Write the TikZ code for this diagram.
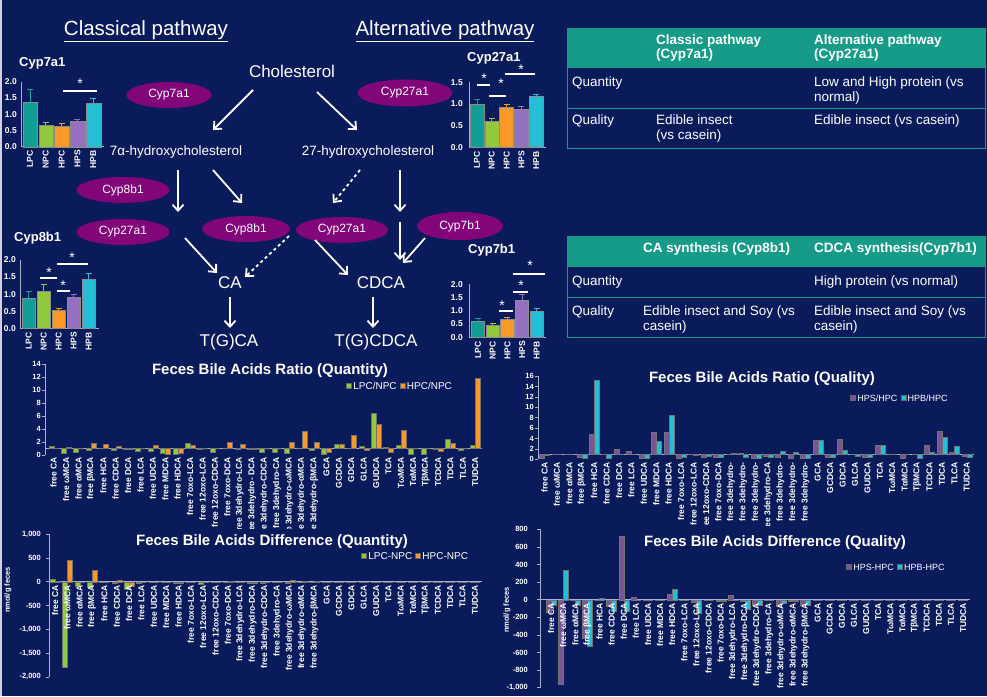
\documentclass[tikz,border=0pt]{standalone}
\usepackage{fontspec}
\setmainfont{Liberation Sans}
\usetikzlibrary{shapes.geometric,arrows.meta,positioning,calc}
\definecolor{NavyBg}{RGB}{10,27,92}
\definecolor{EnzPurple}{RGB}{130,6,122}
\definecolor{HeadTeal}{RGB}{22,155,136}
\definecolor{BarTeal}{RGB}{18,158,148}
\definecolor{BarGreen}{RGB}{146,200,60}
\definecolor{BarOrange}{RGB}{250,152,40}
\definecolor{BarLilac}{RGB}{150,112,192}
\definecolor{BarCyan}{RGB}{38,190,214}
\definecolor{DarkMauve}{RGB}{122,84,148}
\definecolor{AxisGray}{RGB}{170,175,205}

\begin{document}
\begin{tikzpicture}[x=1pt,y=-1pt,
    every node/.style={text=white},
    enz/.style={ellipse,fill=EnzPurple,inner sep=0pt,minimum height=26pt,
                font=\fontsize{12}{12}\selectfont},
    met/.style={font=\fontsize{17}{17}\selectfont,inner sep=0pt},
    hyd/.style={font=\fontsize{13.5}{14}\selectfont,inner sep=0pt},
    arr/.style={-{Straight Barb[length=6pt,width=11pt]},draw=white,line width=1.8pt},
    ptitle/.style={font=\fontsize{20.5}{21}\selectfont,inner sep=0pt},
    ctitle/.style={anchor=west,font=\bfseries\fontsize{13}{13}\selectfont,inner sep=0pt},
    smtick/.style={anchor=east,font=\bfseries\fontsize{8.5}{9}\selectfont,inner sep=0pt},
    smlab/.style={rotate=90,anchor=east,font=\bfseries\fontsize{8.5}{9}\selectfont,inner sep=0pt},
    sbar/.style={draw=black!45,line width=0.3pt},
    errb/.style={line width=0.9pt},
    sigln/.style={draw=white,line width=1.4pt},
    star/.style={font=\fontsize{14}{14}\selectfont,inner sep=0pt},
    axisln/.style={draw=AxisGray,line width=0.6pt},
    bigtitle/.style={font=\bfseries\fontsize{15}{15}\selectfont,inner sep=0pt},
    bigtick/.style={anchor=east,font=\bfseries\fontsize{7.5}{8}\selectfont,inner sep=0pt},
    catlab/.style={rotate=90,anchor=east,font=\bfseries\fontsize{8.5}{9}\selectfont,inner sep=0pt},
    legsq/.style={minimum size=5pt,inner sep=0pt,draw=black!60,line width=0.3pt},
    legtxt/.style={font=\fontsize{10}{10}\selectfont,inner sep=0pt},
    legtxs/.style={font=\fontsize{9}{9}\selectfont,inner sep=0pt},
    barG/.style={fill=BarGreen,draw=black!55,line width=0.3pt},
    barO/.style={fill=BarOrange,draw=black!55,line width=0.3pt},
    barP/.style={fill=DarkMauve,draw=black!55,line width=0.3pt},
    barC/.style={fill=BarCyan,draw=black!55,line width=0.3pt},
    tabline/.style={draw=HeadTeal,line width=1pt},
    thead/.style={anchor=north west,align=left,inner sep=0pt,
                  font=\bfseries\fontsize{13.5}{14}\selectfont},
    tcell/.style={anchor=north west,align=left,inner sep=0pt,
                  font=\fontsize{13.5}{15}\selectfont}]
  \useasboundingbox (0,0) rectangle (987,696);
  \fill[NavyBg] (0,0) rectangle (987,696);
  \draw[white!80!NavyBg,line width=1.6pt] (0.8,0) -- (0.8,696);

  % pathway scheme
  \node[ptitle] (classic) at (146,31) {\underline{Classical pathway}};
  \node[ptitle] (altern) at (445,31) {\underline{Alternative pathway}};
  \node[met] (chol) at (292,71) {Cholesterol};
  \node[hyd] (hy7) at (176,152) {7α-hydroxycholesterol};
  \node[hyd] (hy27) at (368,152) {27-hydroxycholesterol};
  \node[met] (ca) at (230,283) {CA};
  \node[met] (cdca) at (381,283) {CDCA};
  \node[met] (tgca) at (229,342) {T(G)CA};
  \node[met] (tgcdca) at (376,342) {T(G)CDCA};
  \node[enz,minimum width=85pt] (e7a) at (169,95) {Cyp7a1};
  \node[enz,minimum width=95pt,minimum height=27pt] (e27a) at (405,93) {Cyp27a1};
  \node[enz,minimum width=93pt] (e8bL) at (123,190) {Cyp8b1};
  \node[enz,minimum width=93pt] (e27L) at (123,232) {Cyp27a1};
  \node[enz,minimum width=88pt] (e8bM) at (246,229) {Cyp8b1};
  \node[enz,minimum width=92pt] (e27M) at (342,230) {Cyp27a1};
  \node[enz,minimum width=86pt,minimum height=28pt] (e7b) at (460,226) {Cyp7b1};

  \draw[arr] ($(chol)+(-39,19)$) -- ($(hy7)+(37,-22)$);
  \draw[arr] ($(chol)+(25,21)$) -- ($(hy27)+(-11,-22)$);
  \draw[arr] ($(hy7)+(2,18)$) -- ($(hy7)+(2,60)$);
  \draw[arr] ($(hy7)+(37,18)$) -- ($(hy7)+(66,51)$);
  \draw[arr,dashed] ($(hy27)+(-8,18)$) -- ($(hy27)+(-35,51)$);
  \draw[arr] ($(hy27)+(32,18)$) -- ($(hy27)+(32,60)$);
  \draw[arr] ($(ca)+(-45,-45)$) -- ($(ca)+(-13,-10)$);
  \draw[arr,dashed] ($(ca)+(59,-47)$) -- ($(ca)+(15,-6)$);
  \draw[arr] ($(cdca)+(-66,-43)$) -- ($(cdca)+(-33,-8)$);
  \draw[arr] ($(cdca)+(19,-61)$) -- ($(cdca)+(19,-23)$);
  \draw[arr] ($(cdca)+(44,-45)$) -- ($(cdca)+(22,-20)$);
  \draw[arr] ($(ca)+(0,14)$) -- ($(tgca)+(1,-14)$);
  \draw[arr] ($(cdca)+(-8,14)$) -- ($(tgcdca)+(-3,-14)$);

  % Cyp7a1 panel
  \node[ctitle] (c7aT) at (19,63) {Cyp7a1};
  \draw[axisln] (21,81.7) -- (21,146.7) -- (104,146.7);
  \foreach \tk in {0.0,0.5,1.0,1.5,2.0}
    \node[smtick] at (17,{146.7-\tk*32.5}) {\tk};
  \foreach \v/\e/\col/\g [count=\i] in {1.38/1.75/BarTeal/LPC,0.67/0.75/BarGreen/NPC,
      0.62/0.72/BarOrange/HPC,0.78/0.85/BarLilac/HPS,1.33/1.50/BarCyan/HPB}{
    \pgfmathsetmacro\bx{23+(\i-1)*15.8}
    \draw[errb,draw=\col] ({\bx+7},{146.7-\v*32.5}) -- ({\bx+7},{146.7-\e*32.5}) ++(-3,0) -- ++(6,0);
    \draw[sbar,fill=\col] (\bx,146.7) rectangle ({\bx+14.5},{146.7-\v*32.5});
    \node[smlab] (c7a-\i) at ({\bx+7},150) {\g};
  }
  \draw[sigln] (63,91) -- (97,91);
  \node[star] (c7aS) at (80,84) {*};

  % Cyp8b1 panel
  \node[ctitle] (c8bT) at (14,238) {Cyp8b1};
  \draw[axisln] (20,260) -- (20,328.3) -- (99,328.3);
  \foreach \tk in {0.0,0.5,1.0,1.5,2.0}
    \node[smtick] at (16,{328.3-\tk*34.2}) {\tk};
  \foreach \v/\e/\col/\g [count=\i] in {0.89/1.08/BarTeal/LPC,1.08/1.28/BarGreen/NPC,
      0.52/0.58/BarOrange/HPC,0.92/1.00/BarLilac/HPS,1.45/1.60/BarCyan/HPB}{
    \pgfmathsetmacro\bx{22+(\i-1)*15}
    \draw[errb,draw=\col] ({\bx+6.8},{328.3-\v*34.2}) -- ({\bx+6.8},{328.3-\e*34.2}) ++(-3,0) -- ++(6,0);
    \draw[sbar,fill=\col] (\bx,328.3) rectangle ({\bx+13.5},{328.3-\v*34.2});
    \node[smlab] (c8b-\i) at ({\bx+6.8},332) {\g};
  }
  \draw[sigln] (40,278) -- (57,278);
  \node[star] (c8bS1) at (49,273) {*};
  \draw[sigln] (57,291) -- (70,291);
  \node[star] (c8bS2) at (63,286) {*};
  \draw[sigln] (57,264) -- (88,264);
  \node[star] (c8bS3) at (72,258) {*};

  % Cyp27a1 panel
  \node[ctitle] (c27T) at (467,58) {Cyp27a1};
  \draw[axisln] (469,82) -- (469,147.3) -- (546,147.3);
  \foreach \tk in {0.0,0.5,1.0,1.5}
    \node[smtick] at (463,{147.3-\tk*43.3}) {\tk};
  \foreach \v/\e/\col/\g [count=\i] in {1.00/1.10/BarTeal/LPC,0.60/0.66/BarGreen/NPC,
      0.92/0.98/BarOrange/HPC,0.88/0.94/BarLilac/HPS,1.18/1.22/BarCyan/HPB}{
    \pgfmathsetmacro\bx{470+(\i-1)*14.8}
    \draw[errb,draw=\col] ({\bx+7},{147.3-\v*43.3}) -- ({\bx+7},{147.3-\e*43.3}) ++(-3,0) -- ++(6,0);
    \draw[sbar,fill=\col] (\bx,147.3) rectangle ({\bx+14},{147.3-\v*43.3});
    \node[smlab] (c27-\i) at ({\bx+7},151) {\g};
  }
  \draw[sigln] (477,85) -- (490,85);
  \node[star] (c27S1) at (484,79) {*};
  \draw[sigln] (489,96) -- (506,96);
  \node[star] (c27S2) at (501,84) {*};
  \draw[sigln] (505,74) -- (535,74);
  \node[star] (c27S3) at (521,70) {*};

  % Cyp7b1 panel
  \node[ctitle] (c7bT) at (468,250) {Cyp7b1};
  \draw[axisln] (469,284) -- (469,337.3) -- (546,337.3);
  \foreach \tk in {0.0,0.5,1.0,1.5,2.0}
    \node[smtick] at (463,{337.3-\tk*26.5}) {\tk};
  \foreach \v/\e/\col/\g [count=\i] in {0.62/0.72/BarTeal/LPC,0.45/0.52/BarGreen/NPC,
      0.70/0.75/BarOrange/HPC,1.42/1.60/BarLilac/HPS,1.00/1.08/BarCyan/HPB}{
    \pgfmathsetmacro\bx{471+(\i-1)*14.7}
    \draw[errb,draw=\col] ({\bx+7},{337.3-\v*26.5}) -- ({\bx+7},{337.3-\e*26.5}) ++(-3,0) -- ++(6,0);
    \draw[sbar,fill=\col] (\bx,337.3) rectangle ({\bx+13.5},{337.3-\v*26.5});
    \node[smlab] (c7b-\i) at ({\bx+7},341) {\g};
  }
  \draw[sigln] (499,311) -- (513,311);
  \node[star] (c7bS1) at (502,306) {*};
  \draw[sigln] (513,292) -- (528,292);
  \node[star] (c7bS2) at (521,286) {*};
  \draw[sigln] (513,274) -- (545,274);
  \node[star] (c7bS3) at (530,266) {*};

  % tables
  \fill[HeadTeal] (567,28) rectangle (985,68);
  \draw[tabline] (567,28) rectangle (985,148);
  \draw[tabline] (567,108) -- (985,108);
  \node[thead] (t1h2) at (656,35) {Classic pathway\\(Cyp7a1)};
  \node[thead] (t1h3) at (814,35) {Alternative pathway\\(Cyp27a1)};
  \node[tcell] (t1r1) at (572,77) {Quantity};
  \node[tcell] (t1r1c) at (814,77) {Low and High protein (vs\\normal)};
  \node[tcell] (t1r2) at (572,115) {Quality};
  \node[tcell] (t1r2b) at (656,115) {Edible insect\\(vs casein)};
  \node[tcell] (t1r2c) at (814,115) {Edible insect (vs casein)};

  \fill[HeadTeal] (567,236) rectangle (985,267);
  \draw[tabline] (567,236) rectangle (985,337);
  \draw[tabline] (567,297) -- (985,297);
  \node[thead] (t2h2) at (643,243) {CA synthesis (Cyp8b1)};
  \node[thead] (t2h3) at (814,243) {CDCA synthesis(Cyp7b1)};
  \node[tcell] (t2r1) at (572,275.5) {Quantity};
  \node[tcell] (t2r1c) at (814,275.5) {High protein (vs normal)};
  \node[tcell] (t2r2) at (572,305.5) {Quality};
  \node[tcell] (t2r2b) at (643,305.5) {Edible insect and Soy (vs\\casein)};
  \node[tcell] (t2r2c) at (814,305.5) {Edible insect and Soy (vs\\casein)};

  % ratio (quantity)
  \begin{scope}
    \clip (0,355) rectangle (500,528);
    \node[bigtitle] (rqnT) at (270,371) {Feces Bile Acids Ratio (Quantity)};
    \draw[axisln] (45,364) -- (45,455);
    \draw[axisln] (45,448.5) -- (482,448.5);
    \foreach \tk in {0,2,...,14}{
      \draw[axisln] (42,{455-\tk*6.5}) -- (45,{455-\tk*6.5});
      \node[bigtick] at (41,{455-\tk*6.5}) {\tk};
    }
    \foreach \nm/\a/\b [count=\i] in {free CA/1.4/1.1,free ωMCA/0.25/1.15,free αMCA/0.4/1.0,
        free βMCA/0.8/1.8,free HCA/1.0/1.6,free CDCA/0.8/1.4,free DCA/0.9/0.9,free LCA/0.6/1.0,
        free UDCA/0.6/1.5,free MDCA/0.3/0.2,free HDCA/0.2/0.3,free 7oxo-LCA/1.9/1.5,
        free 12oxo-LCA/0.9/1.0,free 12oxo-CDCA/0.5/1.0,free 7oxo-DCA/1.0/2.0,
        free 3dehydro-LCA/0.95/1.6,free 3dehydro- DCA/0.9/0.95,free 3dehydro-CDCA/0.4/1.0,
        free 3dehydro-CA/0.5/1.0,free 3dehydro-ωMCA/0.3/2.0,free 3dehydro-αMCA/1.0/3.6,
        free 3dehydro-βMCA/0.8/2.0,GCA/0.2/0.4,GCDCA/1.7/1.7,GDCA/1.0/3.1,GLCA/1.4/0.8,
        GUDCA/6.5/4.8,TCA/1.2/0.4,TωMCA/1.5/3.8,TαMCA/0.2/1.0,TβMCA/0.2/1.0,TCDCA/0.9/0.6,
        TDCA/2.4/1.8,TLCA/0.7/1.0,TUDCA/1.5/11.8}{
      \pgfmathsetmacro\cx{53.7+(\i-1)*12.4}
      \draw[barG] ({\cx-5},448.5) rectangle (\cx,{455-\a*6.5});
      \draw[barO] (\cx,448.5) rectangle ({\cx+5},{455-\b*6.5});
      \node[catlab] (rqn-\i) at (\cx,457) {\nm};
    }
  \end{scope}
  \node[legsq,fill=BarGreen] (rqnL1) at (349,386) {};
  \node[legtxt,right=1.5pt of rqnL1] (rqnL1t) {LPC/NPC};
  \node[legsq,fill=BarOrange,right=3pt of rqnL1t] (rqnL2) {};
  \node[legtxt,right=1.5pt of rqnL2] (rqnL2t) {HPC/NPC};

  % ratio (quality)
  \begin{scope}
    \clip (500,355) rectangle (987,525);
    \node[bigtitle] (rqlT) at (762,379) {Feces Bile Acids Ratio (Quality)};
    \draw[axisln] (538,376) -- (538,459.3);
    \draw[axisln] (538,454.1) -- (974,454.1);
    \foreach \tk in {0,2,...,16}{
      \draw[axisln] (535,{459.3-\tk*5.2}) -- (538,{459.3-\tk*5.2});
      \node[bigtick] at (534,{459.3-\tk*5.2}) {\tk};
    }
    \foreach \nm/\a/\b [count=\i] in {free CA/0.2/0.8,free ωMCA/0.9/1.0,free αMCA/1.0/1.0,
        free βMCA/0.4/0.2,free HCA/4.8/15.2,free CDCA/0.9/0.3,free DCA/1.9/1.0,free LCA/1.5/1.0,
        free UDCA/0.3/0.3,free MDCA/5.2/3.4,free HDCA/5.2/8.5,free 7oxo-LCA/0.3/0.4,
        free 12oxo-LCA/0.9/0.8,free 12oxo-CDCA/0.5/0.6,free 7oxo-DCA/0.5/0.4,
        free 3dehydro-/0.9/1.2,free 3dehydro-/1.2/0.5,free 3dehydro-/0.3/0.3,
        free 3dehydro-CA/0.6/0.5,free 3dehydro-/0.5/1.5,free 3dehydro-/0.3/1.3,
        free 3dehydro-/0.2/0.3,GCA/3.6/3.6,GCDCA/0.4/0.5,GDCA/3.9/1.7,GLCA/1.0/0.7,
        GUDCA/0.5/0.5,TCA/2.8/2.8,TωMCA/1.0/1.0,TαMCA/0.2/1.0,TβMCA/0.9/0.3,TCDCA/2.8/1.3,
        TDCA/5.5/4.2,TLCA/1.4/2.6,TUDCA/0.6/0.5}{
      \pgfmathsetmacro\cx{544.5+(\i-1)*12.42}
      \draw[barP] ({\cx-5},454.1) rectangle (\cx,{459.3-\a*5.2});
      \draw[barC] (\cx,454.1) rectangle ({\cx+5},{459.3-\b*5.2});
      \node[catlab] (rql-\i) at (\cx,462) {\nm};
    }
  \end{scope}
  \node[legsq,fill=DarkMauve] (rqlL1) at (853,398) {};
  \node[legtxs,right=1.5pt of rqlL1] (rqlL1t) {HPS/HPC};
  \node[legsq,fill=BarCyan,right=3pt of rqlL1t] (rqlL2) {};
  \node[legtxs,right=1.5pt of rqlL2] (rqlL2t) {HPB/HPC};

  % difference (quantity)
  \node[bigtitle] (dqnT) at (272,542) {Feces Bile Acids Difference (Quantity)};
  \node[rotate=90,font=\bfseries\fontsize{7.5}{8}\selectfont,inner sep=0pt] (dqnY) at (8,590) {nmol/g feces};
  \draw[axisln] (49,534) -- (49,677);
  \draw[axisln] (49,581.7) -- (482,581.7);
  \foreach \tk/\tl in {1000/{1,000},500/500,0/0,-500/-500,-1000/{-1,000},-1500/{-1,500},-2000/{-2,000}}{
    \draw[axisln] (46,{581.7-\tk*0.04757}) -- (49,{581.7-\tk*0.04757});
    \node[bigtick] at (41,{581.7-\tk*0.04757}) {\tl};
  }
  \foreach \nm/\a/\b [count=\i] in {free CA/60/20,free ωMCA/-1800/450,free αMCA/-90/0,
      free βMCA/-120/240,free HCA/0/0,free CDCA/-20/30,free DCA/-160/-90,free LCA/-30/0,
      free UDCA/0/0,free MDCA/0/0,free HDCA/-20/-20,free 7oxo-LCA/0/0,free 12oxo-LCA/-60/-10,
      free 12oxo-CDCA/0/0,free 7oxo-DCA/0/10,free 3dehydro-LCA/0/0,free 3dehydro-DCA/-40/-20,
      free 3dehydro-CDCA/-40/0,free 3dehydro-CA/0/0,free 3dehydro-ωMCA/-30/40,
      free 3dehydro-αMCA/0/10,free 3dehydro-βMCA/0/20,GCA/0/0,GCDCA/0/0,GDCA/0/0,GLCA/0/0,
      GUDCA/0/0,TCA/0/0,TωMCA/0/0,TαMCA/0/0,TβMCA/0/0,TCDCA/0/0,TDCA/0/0,TLCA/0/0,TUDCA/0/0}{
    \pgfmathsetmacro\cx{55+(\i-1)*12.35}
    \draw[barG] ({\cx-5},581.7) rectangle (\cx,{581.7-\a*0.04757});
    \draw[barO] (\cx,581.7) rectangle ({\cx+5},{581.7-\b*0.04757});
    \node[catlab] (dqn-\i) at (\cx,585) {\nm};
  }
  \node[legsq,fill=BarGreen] (dqnL1) at (364,556) {};
  \node[legtxt,right=1.5pt of dqnL1] (dqnL1t) {LPC-NPC};
  \node[legsq,fill=BarOrange,right=3pt of dqnL1t] (dqnL2) {};
  \node[legtxt,right=1.5pt of dqnL2] (dqnL2t) {HPC-NPC};

  % difference (quality)
  \node[bigtitle] (dqlT) at (775,543) {Feces Bile Acids Difference (Quality)};
  \node[rotate=90,font=\bfseries\fontsize{7.5}{8}\selectfont,inner sep=0pt] (dqlY) at (507,610) {nmol/g feces};
  \draw[axisln] (540,529.3) -- (540,687.7);
  \draw[axisln] (540,599.7) -- (970,599.7);
  \foreach \tk/\tl in {800/800,600/600,400/400,200/200,0/0,-200/-200,-400/-400,-600/-600,-800/-800,-1000/{-1,000}}{
    \draw[axisln] (537,{599.7-\tk*0.088}) -- (540,{599.7-\tk*0.088});
    \node[bigtick] at (528,{599.7-\tk*0.088}) {\tl};
  }
  \foreach \nm/\a/\b [count=\i] in {free CA/-140/-60,free ωMCA/-960/340,free αMCA/0/-60,
      free βMCA/-440/-530,free HCA/0/20,free CDCA/-70/-130,free DCA/720/-130,free LCA/30/0,
      free UDCA/0/0,free MDCA/0/0,free HDCA/60/120,free 7oxo-LCA/0/0,free 12oxo-LCA/-30/-150,
      free 12oxo-CDCA/0/0,free 7oxo-DCA/-20/-20,free 3dehydro-LCA/50/-10,free 3dehydro-DCA/-20/-110,
      free 3dehydro-CDCA/-60/-60,free 3dehydro-CA/0/0,free 3dehydro-ωMCA/-70/-40,
      free 3dehydro-αMCA/-20/-20,free 3dehydro-βMCA/-60/-60,GCA/0/0,GCDCA/0/0,GDCA/0/0,GLCA/0/0,
      GUDCA/0/0,TCA/0/0,TωMCA/0/0,TαMCA/0/0,TβMCA/0/0,TCDCA/0/0,TDCA/0/0,TLCA/0/0,TUDCA/0/0}{
    \pgfmathsetmacro\cx{551+(\i-1)*12.12}
    \draw[barP] ({\cx-5},599.7) rectangle (\cx,{599.7-\a*0.088});
    \draw[barC] (\cx,599.7) rectangle ({\cx+5},{599.7-\b*0.088});
    \node[catlab] (dql-\i) at (\cx,603) {\nm};
  }
  \node[legsq,fill=DarkMauve] (dqlL1) at (849,567) {};
  \node[legtxs,right=1.5pt of dqlL1] (dqlL1t) {HPS-HPC};
  \node[legsq,fill=BarCyan,right=3pt of dqlL1t] (dqlL2) {};
  \node[legtxs,right=1.5pt of dqlL2] (dqlL2t) {HPB-HPC};
\end{tikzpicture}
\end{document}
